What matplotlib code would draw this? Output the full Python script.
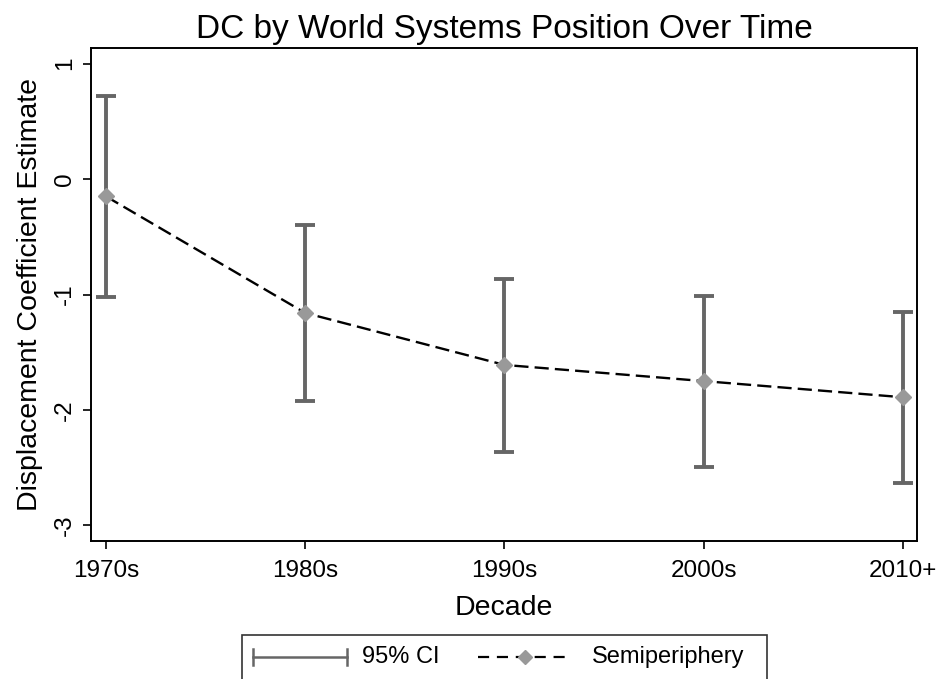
import matplotlib
matplotlib.use('Agg')
import matplotlib.pyplot as plt
from matplotlib.lines import Line2D
from matplotlib.patches import Rectangle

plt.rcParams['font.family'] = ['Liberation Sans', 'DejaVu Sans']

# ─── data ─────────────────────────────────────────────────────────────────────
decades = ['1970s', '1980s', '1990s', '2000s', '2010+']
estimate = [-0.15, -1.16, -1.61, -1.75, -1.89]
ci_low = [-1.02, -1.92, -2.36, -2.49, -2.63]
ci_high = [0.72, -0.40, -0.87, -1.01, -1.15]

W, H = 936, 679
fig = plt.figure(figsize=(W / 100, H / 100), dpi=100)
ax = fig.add_axes([91 / W, 1 - 541 / H, (917 - 91) / W, (541 - 48) / H])

x = list(range(len(decades)))
yerr = [[e - l for e, l in zip(estimate, ci_low)],
        [h - e for e, h in zip(estimate, ci_high)]]
dash = (0, (6, 2.6))

ax.errorbar(x, estimate, yerr=yerr, fmt='none', ecolor='#666666',
            elinewidth=2.8, capsize=7, capthick=2.8, zorder=2)
ax.plot(x, estimate, color='black', ls=dash, lw=1.7, zorder=3)
ax.plot(x, estimate, ls='none', marker='D', ms=8, color='#999999',
        mec='#999999', zorder=4)

ax.set_xlim(-0.075, 4.07)
ax.set_ylim(-3.135, 1.135)
ax.set_xticks(x)
ax.set_xticklabels(decades, fontsize=17.5)
ax.set_yticks([1, 0, -1, -2, -3])
ax.set_yticklabels(['1', '0', '-1', '-2', '-3'], fontsize=17.5, rotation=90,
                   va='center')
ax.tick_params(length=6, width=1.2, color='black', pad=5)
ax.tick_params(axis='x', pad=8)
for s in ax.spines.values():
    s.set_linewidth(1.4)

ax.set_xlabel('Decade', fontsize=20.5, labelpad=9)
ax.set_ylabel('Displacement Coefficient Estimate', fontsize=20.5, labelpad=8)
ax.set_title('DC by World Systems Position Over Time', fontsize=24, pad=7)

# ─── legend (drawn by hand) ───────────────────────────────────────────────────
def fx(px):
    return px / W

def fy(py):
    return 1 - py / H

fig.patches.append(Rectangle((fx(242), fy(690)), fx(767) - fx(242),
                             fy(635) - fy(690), transform=fig.transFigure,
                             fill=False, ec='#333333', lw=1.2))
ly = fy(657)
fig.add_artist(Line2D([fx(253), fx(347)], [ly, ly], color='#666666', lw=1.8,
                      transform=fig.transFigure))
for cx in (253, 347):
    fig.add_artist(Line2D([fx(cx), fx(cx)], [fy(649), fy(665)],
                          color='#666666', lw=1.8, transform=fig.transFigure))
fig.text(fx(362), ly, '95% CI', fontsize=17, va='center', ha='left')
fig.add_artist(Line2D([fx(478), fx(572)], [ly, ly], color='black',
                      ls=(0, (5, 3.5)), lw=1.6, transform=fig.transFigure))
fig.add_artist(Line2D([fx(525)], [ly], ls='none', marker='D', ms=7,
                      color='#999999', transform=fig.transFigure))
fig.text(fx(592), ly, 'Semiperiphery', fontsize=17, va='center', ha='left')

plt.savefig('out.png', dpi=100, facecolor='white')
plt.close()
